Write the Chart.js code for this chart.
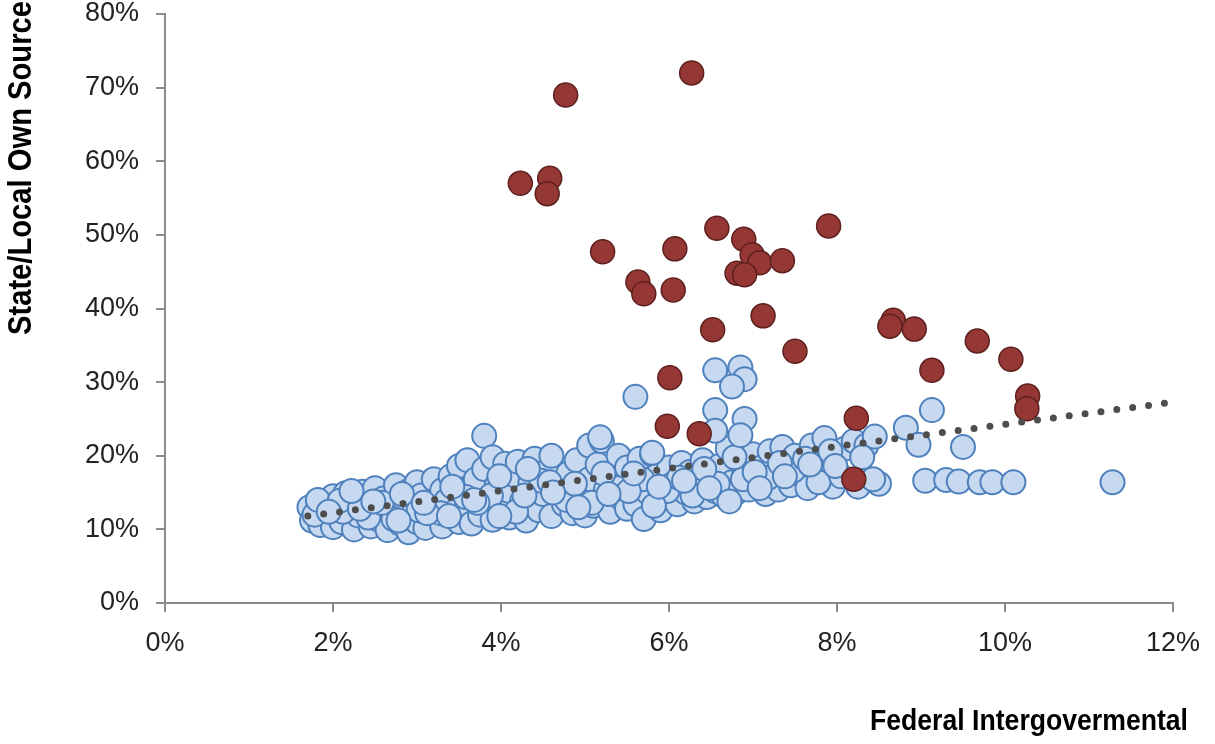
<!DOCTYPE html>
<html>
<head>
<meta charset="utf-8">
<script src="https://cdn.jsdelivr.net/npm/chart.js@4"></script>
<style>
  html, body { margin: 0; padding: 0; background: #fff; }
  #wrap { width: 1215px; height: 744px; position: relative; }
</style>
</head>
<body>
<div id="wrap"><canvas id="myChart"></canvas></div>
<script>
// values in percent
const xTicks = [0, 2, 4, 6, 8, 10, 12];
const yTicks = [0, 10, 20, 30, 40, 50, 60, 70, 80];

const redX = [6.27, 4.77, 4.23, 4.58, 4.55, 5.21, 6.07, 6.57, 7.90, 6.89, 6.99, 7.08, 7.35, 6.81, 6.90,
  5.63, 5.70, 6.05, 7.12, 6.52, 7.50, 8.67, 8.63, 8.92, 9.67, 10.07, 9.13, 10.27, 10.26, 6.01, 5.98, 6.36, 8.23, 8.20];
const redY = [72.0, 69.0, 57.0, 57.7, 55.6, 47.7, 48.1, 50.9, 51.2, 49.4, 47.3, 46.2, 46.5, 44.8, 44.6,
  43.6, 42.0, 42.5, 39.0, 37.1, 34.2, 38.4, 37.6, 37.2, 35.6, 33.1, 31.6, 28.1, 26.4, 30.6, 24.0, 23.0, 25.1, 16.8];

const blueX = [
  1.72, 1.75, 1.80, 1.85, 1.90, 1.95, 2.00, 2.00, 2.05, 2.10, 2.15, 2.20, 2.25, 2.30, 2.35, 2.40, 2.45, 2.50, 2.50, 2.55, 2.60, 2.65,
  2.70, 2.75, 2.80, 2.85, 2.90, 2.90, 2.95, 3.00, 3.00, 3.05, 3.10, 3.15, 3.20, 3.25, 3.30, 3.30, 3.35, 3.40, 3.45, 3.50, 3.50, 3.55, 3.60, 3.60,
  3.65, 3.70, 3.75, 3.80, 3.80, 3.85, 3.90, 3.90, 3.95, 4.00, 4.05, 4.10, 4.10, 4.15, 4.20, 4.25, 4.30, 4.35, 4.40, 4.45, 4.50, 4.55, 4.60, 4.60,
  4.70, 4.75, 4.80, 4.85, 4.90, 4.95, 5.00, 5.05, 5.05, 5.10, 5.15, 5.20, 5.25, 5.30, 5.35, 5.40, 5.45, 5.50, 5.50, 5.55,
  5.60, 5.65, 5.70, 5.75, 5.80, 5.85, 5.90, 5.95, 6.00, 6.05, 6.10, 6.15, 6.20, 6.25, 6.30, 6.35, 6.40, 6.45, 6.50, 6.55,
  6.60, 6.65, 6.70, 6.75, 6.80, 6.85, 6.90, 6.95, 7.00, 7.05, 7.10, 7.15, 7.20, 7.25, 7.30, 7.35, 7.40, 7.45, 7.50,
  7.60, 7.65, 7.70, 7.75, 7.80, 7.85, 7.90, 7.95, 8.00, 8.10, 8.20, 8.25, 8.35, 8.45, 8.50,
  1.78, 2.12, 2.42, 2.72, 3.02, 3.28, 3.58, 3.88, 4.18, 4.48, 4.78, 5.08, 5.38, 5.68, 5.98, 6.28, 6.58, 6.88, 7.18, 7.48, 7.78, 8.05,
  1.82, 2.08, 2.32, 2.58, 2.82, 3.12, 3.42, 3.72, 3.98, 4.28, 4.58, 4.88, 5.22, 5.52, 5.82, 6.12, 6.42, 6.72, 7.02, 7.32, 7.62, 7.92, 8.30,
  1.95, 2.22, 2.48, 2.78, 3.08, 3.38, 3.68, 3.98, 4.32, 4.62, 4.92, 5.28, 5.58, 5.88, 6.18, 6.48, 6.78, 7.08, 7.38, 7.68, 7.98,
  5.18, 5.80, 5.60, 6.55, 6.85, 6.90, 6.75, 6.55, 6.90, 6.55, 6.85, 8.82, 9.13, 9.50, 8.97, 8.43, 9.05, 9.30, 9.45, 9.70, 9.85, 10.10, 11.28
];
const blueY = [
  13.0, 11.2, 12.2, 10.6, 13.8, 11.8, 14.5, 10.3, 12.8, 11.0, 14.9, 13.2, 10.0, 11.9, 15.1, 13.6, 10.4, 12.5, 15.6, 11.3, 14.2, 9.9,
  12.8, 16.0, 10.8, 13.9, 15.2, 9.6, 12.0, 16.4, 11.0, 14.6, 10.2, 13.2, 16.8, 11.8, 15.3, 10.4, 13.9, 17.2, 12.4, 11.0, 18.6, 15.0, 13.3, 19.4,
  10.8, 16.8, 12.0, 22.7, 18.2, 14.2, 11.3, 19.8, 16.0, 13.0, 18.9, 11.6, 15.2, 17.4, 19.2, 13.8, 11.2, 16.4, 19.6, 12.6, 14.8, 18.0, 11.8, 20.0,
  15.8, 13.4, 17.6, 12.2, 19.4, 14.6, 11.9, 21.4, 16.8, 13.2, 18.8, 22.0, 15.4, 12.4, 17.2, 20.0, 14.0, 12.8, 18.4, 16.0,
  13.4, 19.6, 11.4, 15.0, 20.2, 17.2, 12.6, 14.6, 18.4, 16.2, 13.4, 19.0, 15.0, 17.8, 13.8, 16.0, 19.4, 14.4, 17.4, 15.2,
  18.6, 14.6, 21.0, 16.4, 15.0, 19.2, 17.6, 15.4, 20.2, 16.6, 18.4, 14.8, 20.6, 16.8, 15.4, 21.2, 18.0, 16.0, 20.0,
  17.2, 15.6, 21.4, 18.6, 16.6, 22.4, 19.4, 15.8, 17.8, 21.0, 22.0, 15.8, 21.4, 22.6, 16.2,
  12.0, 12.4, 11.6, 11.4, 12.6, 12.2, 14.4, 14.6, 12.4, 16.6, 14.0, 13.6, 15.6, 16.8, 15.2, 14.6, 16.2, 16.8, 17.0, 18.0, 16.4, 17.2,
  14.0, 13.9, 12.8, 13.6, 14.8, 12.2, 15.8, 13.6, 17.2, 14.6, 16.4, 16.2, 17.6, 15.2, 13.2, 17.0, 18.2, 13.8, 17.8, 19.0, 19.6, 20.6, 19.8,
  12.4, 15.2, 13.8, 11.2, 13.6, 11.8, 14.0, 11.8, 18.2, 15.0, 13.0, 14.8, 17.6, 15.8, 16.6, 15.6, 19.8, 15.6, 17.2, 18.8, 18.6,
  22.5, 20.4, 28.0, 31.6, 32.0, 30.4, 29.4, 26.2, 25.0, 23.4, 22.8, 23.8, 26.2, 21.2, 21.5, 16.8, 16.6, 16.7, 16.5, 16.4, 16.4, 16.4, 16.4
];

// linear trend, end points
const trendX = [1.7, 11.95];
const trendY = [11.8, 27.2];

function toPoints(xs, ys) {
  return xs.map((x, i) => ({ x: x, y: ys[i] }));
}

const axisGray = "#8c8c8c";
const tickFont = { family: "'Liberation Sans', Arial, sans-serif", size: 27 };

// draws text squeezed to a given width, the original uses a condensed face
function condensedText(ctx, text, x, y, width) {
  const w = ctx.measureText(text).width;
  ctx.save();
  ctx.translate(x, y);
  ctx.scale(width / w, 1);
  ctx.textAlign = "right";
  ctx.fillText(text, 0, 0);
  ctx.restore();
}

// axis titles drawn by hand so they sit where the original has them
const axisTitles = {
  id: "axisTitles",
  afterDraw(chart) {
    const ctx = chart.ctx;
    ctx.save();
    ctx.fillStyle = "#000";
    ctx.textBaseline = "middle";
    ctx.font = "bold 30px 'Liberation Sans', Arial, sans-serif";
    condensedText(ctx, "Federal Intergovermental", 1188, 722, 318);

    ctx.translate(22, 1);
    ctx.rotate(-Math.PI / 2);
    ctx.font = "bold 33px 'Liberation Sans', Arial, sans-serif";
    condensedText(ctx, "State/Local Own Source", 0, 0, 334);
    ctx.restore();
  },
};

const ctx = document.getElementById("myChart");
new Chart(ctx, {
  type: "scatter",
  data: {
    datasets: [
      {
        label: "Trend",
        type: "line",
        data: toPoints(trendX, trendY),
        borderColor: "#4d4d4d",
        borderWidth: 7,
        borderDash: [0, 16],
        borderCapStyle: "round",
        pointRadius: 0,
        fill: false,
        order: 0,
      },
      {
        label: "High",
        data: toPoints(redX, redY),
        backgroundColor: "#953735",
        borderColor: "#5e211f",
        borderWidth: 1.5,
        pointRadius: 12,
        order: 1,
      },
      {
        label: "Others",
        data: toPoints(blueX, blueY),
        backgroundColor: "#c6d9f1",
        borderColor: "#4f81bd",
        borderWidth: 2,
        pointRadius: 12,
        order: 2,
      },
    ],
  },
  options: {
    responsive: true,
    maintainAspectRatio: false,
    animation: false,
    layout: { padding: { top: 14, right: 42, left: 0, bottom: 0 } },
    plugins: {
      legend: { display: false },
      tooltip: { enabled: false },
    },
    scales: {
      x: {
        type: "linear",
        min: 0,
        max: 12,
        afterBuildTicks: (axis) => { axis.ticks = xTicks.map((v) => ({ value: v })); },
        afterFit: (axis) => { axis.height = 141; },
        border: { display: true, color: axisGray, width: 2 },
        grid: { drawOnChartArea: false, drawTicks: true, tickLength: 9, color: axisGray, lineWidth: 2 },
        ticks: { font: tickFont, color: "#222", padding: 15, maxRotation: 0, callback: (v) => v + "%" },
      },
      y: {
        type: "linear",
        min: 0,
        max: 80,
        afterBuildTicks: (axis) => { axis.ticks = yTicks.map((v) => ({ value: v })); },
        afterFit: (axis) => {
          axis.width = 165;
          axis.paddingTop = 0;
        },
        border: { display: true, color: axisGray, width: 2 },
        grid: { drawOnChartArea: false, drawTicks: true, tickLength: 9, color: axisGray, lineWidth: 2 },
        ticks: { font: tickFont, color: "#222", padding: 17, callback: (v) => v + "%" },
      },
    },
  },
  plugins: [axisTitles],
});
</script>
</body>
</html>
